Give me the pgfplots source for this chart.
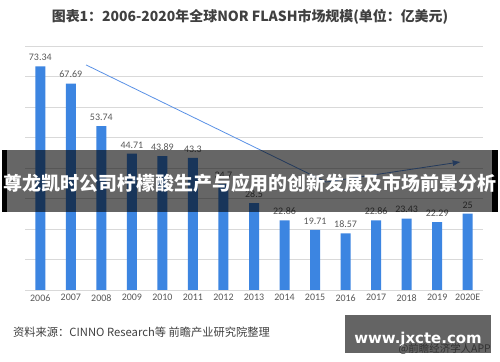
\documentclass[border=0pt]{standalone}
\usepackage{fontspec}
\setmainfont{Carlito}
\newfontfamily\cjk{Noto Sans CJK SC}
\newfontfamily\dv{DejaVu Sans}
\usepackage{pgfplots}
\pgfplotsset{compat=1.18}
\usetikzlibrary{arrows.meta}
\definecolor{barblue}{RGB}{60,133,225}
\definecolor{trend}{RGB}{90,145,230}
\definecolor{lbl}{RGB}{89,89,89}
\definecolor{gridc}{RGB}{217,217,217}
\definecolor{ttl}{RGB}{64,64,64}
\definecolor{wmbox}{RGB}{100,100,100}
\definecolor{wmtxt}{RGB}{50,50,50}
\begin{document}
\begin{tikzpicture}
\path[use as bounding box] (0bp,0bp) rectangle (500bp,362bp);
\clip (0bp,0bp) rectangle (500bp,362bp);
\fill[white] (0bp,0bp) rectangle (500bp,362bp);
\begin{axis}[at={(25bp,72bp)}, anchor=south west, scale only axis,
  width=458bp, height=244bp,
  xmin=-0.5, xmax=14.5, ymin=0, ymax=80,
  axis line style={draw=none},
  ytick={0,10,...,80}, yticklabels={},
  ymajorgrids, grid style={gridc, line width=0.6pt},
  major tick length=0pt,
  xtick={0,...,14},
  xticklabels={2006,2007,2008,2009,2010,2011,2012,2013,2014,2015,2016,2017,2018,2019,2020E},
  xticklabel style={font=\fontsize{10}{12}\selectfont, text=lbl, yshift=-1bp},
  /pgf/number format/assume math mode=true,
  clip=false]
\addplot[ybar, bar width=10bp, fill=barblue, draw=none,
  nodes near coords, point meta=explicit symbolic,
  nodes near coords style={font=\fontsize{10}{12}\selectfont, text=lbl, anchor=south, yshift=2bp}]
  coordinates {
  (0,73.34) [73.34]
  (1,67.69) [67.69]
  (2,53.74) [53.74]
  (3,44.71) [44.71]
  (4,43.89) [43.89]
  (5,43.3) [43.3]
  (6,34.7) [34.7]
  (7,28.5) [28.5]
  (8,22.86) [22.86]
  (9,19.71) [19.71]
  (10,18.57) [18.57]
  (11,22.86) [22.86]
  (12,23.43) [23.43]
  (13,22.29) [22.29]
  (14,25) [25]
  };
\addplot[trend, line width=0.8pt, mark=none, -{Latex[length=8bp,width=6bp]}]
  coordinates {(1.5,73.8) (9.36,35.4) (13.77,42.0)};
\end{axis}
\begin{scope}[x=1bp,y=1bp]
% title
\node[font=\cjk\bfseries\fontsize{14}{16}\selectfont, text=ttl] at (250,345)
  {图表1：2006-2020年全球NOR FLASH市场规模(单位：亿美元)};
% banner
\fill[black, opacity=0.6] (7,150) rectangle (492,212);
\fill[black] (2,150) rectangle (7,212);
\fill[black] (492,150) rectangle (498,212);
\node[font=\cjk\bfseries\fontsize{19}{22}\selectfont, text=white, inner sep=0] at (250,179)
  {尊龙凯时公司柠檬酸生产与应用的创新发展及市场前景分析};
% footer
\node[anchor=west, font=\cjk\fontsize{11.3}{13}\selectfont, text=ttl, inner sep=0] at (13,30)
  {资料来源：CINNO Research等 前瞻产业研究院整理};
% watermark box
\fill[wmbox] (345,9) rectangle (491,47);
\node[anchor=base, font=\dv\bfseries\fontsize{15}{17}\selectfont, text=white, inner sep=0] at (418,19) {www.jxcte.com};
\node[anchor=base east, font=\cjk\fontsize{10.5}{12}\selectfont, text=wmtxt, inner sep=0] at (491,10)
  {@前瞻经济学人APP};
\end{scope}
\end{tikzpicture}
\end{document}
